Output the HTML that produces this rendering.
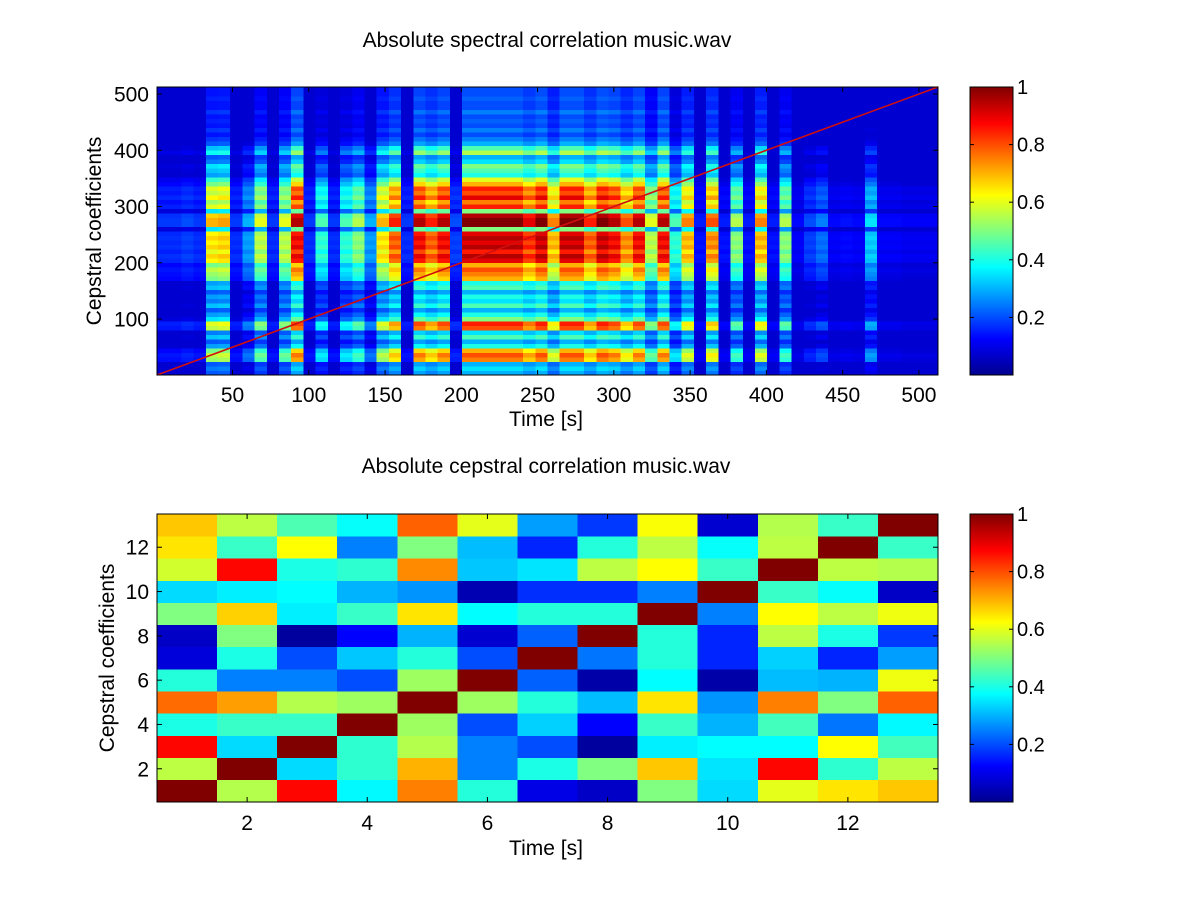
<!DOCTYPE html>
<html><head><meta charset="utf-8"><style>
html,body{margin:0;padding:0;background:#fff;}
svg{display:block;font-family:"Liberation Sans",Arial,sans-serif;}
</style></head><body>
<svg id="fig" width="1201" height="901" viewBox="0 0 1201 901" xmlns="http://www.w3.org/2000/svg">
<rect x="0" y="0" width="1201" height="901" fill="#fff"/>
<defs>
<linearGradient id="jetg" x1="0" y1="1" x2="0" y2="0">
<stop offset="0" stop-color="#00008f"/><stop offset="0.125" stop-color="#0000ff"/><stop offset="0.375" stop-color="#00ffff"/><stop offset="0.625" stop-color="#ffff00"/><stop offset="0.875" stop-color="#ff0000"/><stop offset="1" stop-color="#800000"/>
</linearGradient>
</defs>
<g id="topPlot"></g>
<g id="botPlot"></g>
</svg>
<script>
// ---- Top chart data (profiles, 8-unit bins) ----
const topColProfile = [0.18,0.18,0.2,0.18,0.7,0.72,0.18,0.3,0.6,0.18,0.6,0.95,0.18,0.45,0.18,0.45,0.55,0.3,0.7,0.85,0.18,0.95,0.85,0.95,0.2,1,1,1,1,1,0.9,1,0.75,1,1,0.85,1,0.95,0.8,0.95,0.6,0.95,0.45,0.75,0.15,0.8,0.15,0.55,0.15,0.75,0.15,0.55,0.13,0.2,0.25,0.13,0.14,0.13,0.35,0.13,0.13,0.12,0.12,0.12];
const topRowProfile = [0.3,0.35,0.3,0.75,0.8,0.7,0.4,0.3,0.45,0.35,0.8,0.85,0.5,0.4,0.3,0.45,0.35,0.4,0.3,0.45,0.4,0.7,0.75,0.8,0.7,0.9,0.95,0.85,0.95,0.9,0.95,0.9,0.5,1,1,0.95,0.5,0.85,0.75,0.9,0.8,0.85,0.7,0.6,0.4,0.45,0.5,0.35,0.3,0.55,0.45,0.3,0.25,0.2,0.25,0.2,0.22,0.2,0.25,0.2,0.2,0.22,0.2,0.2];
const topXTicks = [50,100,150,200,250,300,350,400,450,500];
const topYTicks = [100,200,300,400,500];
const topN = 512;
const diagStart = 0.5, diagEnd = 512.5;

// ---- Bottom chart data (rows from y=1 to y=13, columns x=1..13) ----
const botRow1  = [1,0.55,0.87,0.37,0.75,0.41,0.1,0.07,0.5,0.34,0.6,0.65,0.68];
const botRow2  = [0.56,1,0.34,0.42,0.7,0.25,0.4,0.5,0.68,0.35,0.87,0.42,0.56];
const botRow3  = [0.87,0.34,1,0.42,0.55,0.25,0.2,0.03,0.36,0.375,0.375,0.625,0.44];
const botRow4  = [0.4,0.43,0.43,1,0.53,0.2,0.33,0.125,0.43,0.3,0.44,0.24,0.37];
const botRow5  = [0.77,0.72,0.55,0.53,1,0.53,0.41,0.31,0.65,0.27,0.75,0.5,0.78];
const botRow6  = [0.41,0.25,0.25,0.2,0.53,1,0.22,0.04,0.375,0.04,0.31,0.3,0.61];
const botRow7  = [0.09,0.4,0.2,0.32,0.41,0.2,1,0.24,0.41,0.16,0.33,0.16,0.28];
const botRow8  = [0.07,0.5,0.03,0.125,0.3,0.08,0.22,1,0.41,0.16,0.56,0.4,0.18];
const botRow9  = [0.5,0.67,0.36,0.43,0.65,0.375,0.41,0.41,1,0.25,0.625,0.56,0.61];
const botRow10 = [0.34,0.36,0.375,0.3,0.27,0.05,0.17,0.17,0.25,1,0.43,0.38,0.07];
const botRow11 = [0.58,0.87,0.4,0.42,0.74,0.32,0.35,0.56,0.625,0.43,1,0.56,0.55];
const botRow12 = [0.65,0.43,0.625,0.25,0.5,0.31,0.16,0.41,0.56,0.38,0.56,1,0.43];
const botRow13 = [0.68,0.56,0.45,0.38,0.78,0.6,0.28,0.18,0.62,0.08,0.55,0.43,1];
const botXTicks = [2,4,6,8,10,12];
const botYTicks = [2,4,6,8,10,12];
const cbTicks = [0.2,0.4,0.6,0.8,1];
const cbLabels = ["0.2","0.4","0.6","0.8","1"];

const NS = "http://www.w3.org/2000/svg";
const FS = 21;
function mk(tag, attrs, parent){const e=document.createElementNS(NS,tag);for(const k in attrs)e.setAttribute(k,attrs[k]);parent.appendChild(e);return e;}
function jet(v){
  v=Math.max(0,Math.min(1,v));
  const c=x=>Math.round(255*Math.max(0,Math.min(1,x)));
  return `rgb(${c(1.5-Math.abs(4*v-3))},${c(1.5-Math.abs(4*v-2))},${c(1.5-Math.abs(4*v-1))})`;
}

// ---------- TOP ----------
const TA={L:157,R:938,Tp:87,B:375};
const tx=t=>TA.L+(t-0.5)*(TA.R-TA.L)/topN;
const ty=c=>TA.B-(c-0.5)*(TA.B-TA.Tp)/topN;
const topG=document.getElementById('topPlot');
const nc=topColProfile.length, nr=topRowProfile.length, bw=topN/nc, bh=topN/nr;
for(let j=0;j<nc;j++){
  for(let i=0;i<nr;i++){
    const v=Math.max(0.08,topColProfile[j]*topRowProfile[i]);
    const x0=tx(j*bw+0.5), x1=tx((j+1)*bw+0.5), y0=ty((i+1)*bh+0.5), y1=ty(i*bh+0.5);
    const r=mk('rect',{x:x0,y:y0,width:x1-x0+0.3,height:y1-y0+0.3,fill:jet(v),'shape-rendering':'crispEdges'},topG);
    
    
  }
}
const dl=mk('line',{x1:tx(diagStart),y1:ty(diagStart),x2:tx(diagEnd),y2:ty(diagEnd),stroke:'#d01010','stroke-width':1.6},topG);


const tf=mk('rect',{x:TA.L,y:TA.Tp,width:TA.R-TA.L,height:TA.B-TA.Tp,fill:'none',stroke:'#000','stroke-width':1},topG);


topXTicks.forEach(t=>{
  const x=tx(t);
  mk('line',{x1:x,y1:TA.B,x2:x,y2:TA.B-5,stroke:'#000'},topG);
  mk('line',{x1:x,y1:TA.Tp,x2:x,y2:TA.Tp+5,stroke:'#000'},topG);
  const l=mk('text',{x:x,y:402,'font-size':FS,'text-anchor':'middle'},topG);l.textContent=t;
  
  
});
topYTicks.forEach(c=>{
  const y=ty(c);
  mk('line',{x1:TA.L,y1:y,x2:TA.L+5,y2:y,stroke:'#000'},topG);
  mk('line',{x1:TA.R,y1:y,x2:TA.R-5,y2:y,stroke:'#000'},topG);
  const l=mk('text',{x:149,y:y+7.5,'font-size':FS,'text-anchor':'end'},topG);l.textContent=c;
  
  
});
let t1=mk('text',{x:547,y:47,'font-size':FS,'text-anchor':'middle'},topG);t1.textContent='Absolute spectral correlation music.wav';


let t2=mk('text',{x:546,y:426,'font-size':FS,'text-anchor':'middle'},topG);t2.textContent='Time [s]';


let t3=mk('text',{x:0,y:0,'font-size':FS,'text-anchor':'middle',transform:`translate(101,${(TA.Tp+TA.B)/2}) rotate(-90)`},topG);t3.textContent='Cepstral coefficients';



function colorbar(parent,y0,y1,name){
  const g=mk('g',{},parent);
  
  
  mk('rect',{x:970,y:y0,width:43,height:y1-y0,fill:'url(#jetg)',stroke:'#000','stroke-width':1},g);
  const cy=v=>y1-v*(y1-y0);
  cbTicks.forEach((v,k)=>{
    const y=cy(v);
    mk('line',{x1:970,y1:y,x2:974,y2:y,stroke:'#000'},g);
    mk('line',{x1:1013,y1:y,x2:1009,y2:y,stroke:'#000'},g);
    const l=mk('text',{x:1017,y:y+7,'font-size':20},g);l.textContent=cbLabels[k];
    
    
  });
}
colorbar(topG,TA.Tp,TA.B,'top-colorbar');

// ---------- BOTTOM ----------
const BA={L:157,R:938,Tp:514,B:802};
const botRows=[botRow1,botRow2,botRow3,botRow4,botRow5,botRow6,botRow7,botRow8,botRow9,botRow10,botRow11,botRow12,botRow13];
const bx=t=>BA.L+(t-0.5)*(BA.R-BA.L)/13;
const by=c=>BA.B-(c-0.5)*(BA.B-BA.Tp)/13;
const botG=document.getElementById('botPlot');
botRows.forEach((row,i)=>{
  row.forEach((v,j)=>{
    const x0=bx(j+0.5),x1=bx(j+1.5),y0=by(i+1.5),y1=by(i+0.5);
    const r=mk('rect',{x:x0,y:y0,width:x1-x0+0.3,height:y1-y0+0.3,fill:jet(v),'shape-rendering':'crispEdges'},botG);
    
    
  });
});
const bf=mk('rect',{x:BA.L,y:BA.Tp,width:BA.R-BA.L,height:BA.B-BA.Tp,fill:'none',stroke:'#000','stroke-width':1},botG);


botXTicks.forEach(t=>{
  const x=bx(t);
  mk('line',{x1:x,y1:BA.B,x2:x,y2:BA.B-5,stroke:'#000'},botG);
  mk('line',{x1:x,y1:BA.Tp,x2:x,y2:BA.Tp+5,stroke:'#000'},botG);
  const l=mk('text',{x:x,y:830,'font-size':FS,'text-anchor':'middle'},botG);l.textContent=t;
  
  
});
botYTicks.forEach(c=>{
  const y=by(c);
  mk('line',{x1:BA.L,y1:y,x2:BA.L+5,y2:y,stroke:'#000'},botG);
  mk('line',{x1:BA.R,y1:y,x2:BA.R-5,y2:y,stroke:'#000'},botG);
  const l=mk('text',{x:149,y:y+7.5,'font-size':FS,'text-anchor':'end'},botG);l.textContent=c;
  
  
});
let b1=mk('text',{x:546,y:473,'font-size':FS,'text-anchor':'middle'},botG);b1.textContent='Absolute cepstral correlation music.wav';


let b2=mk('text',{x:546,y:855,'font-size':FS,'text-anchor':'middle'},botG);b2.textContent='Time [s]';


let b3=mk('text',{x:0,y:0,'font-size':FS,'text-anchor':'middle',transform:`translate(114,${(BA.Tp+BA.B)/2}) rotate(-90)`},botG);b3.textContent='Cepstral coefficients';


colorbar(botG,BA.Tp,BA.B,'bottom-colorbar');
</script>
</body></html>
